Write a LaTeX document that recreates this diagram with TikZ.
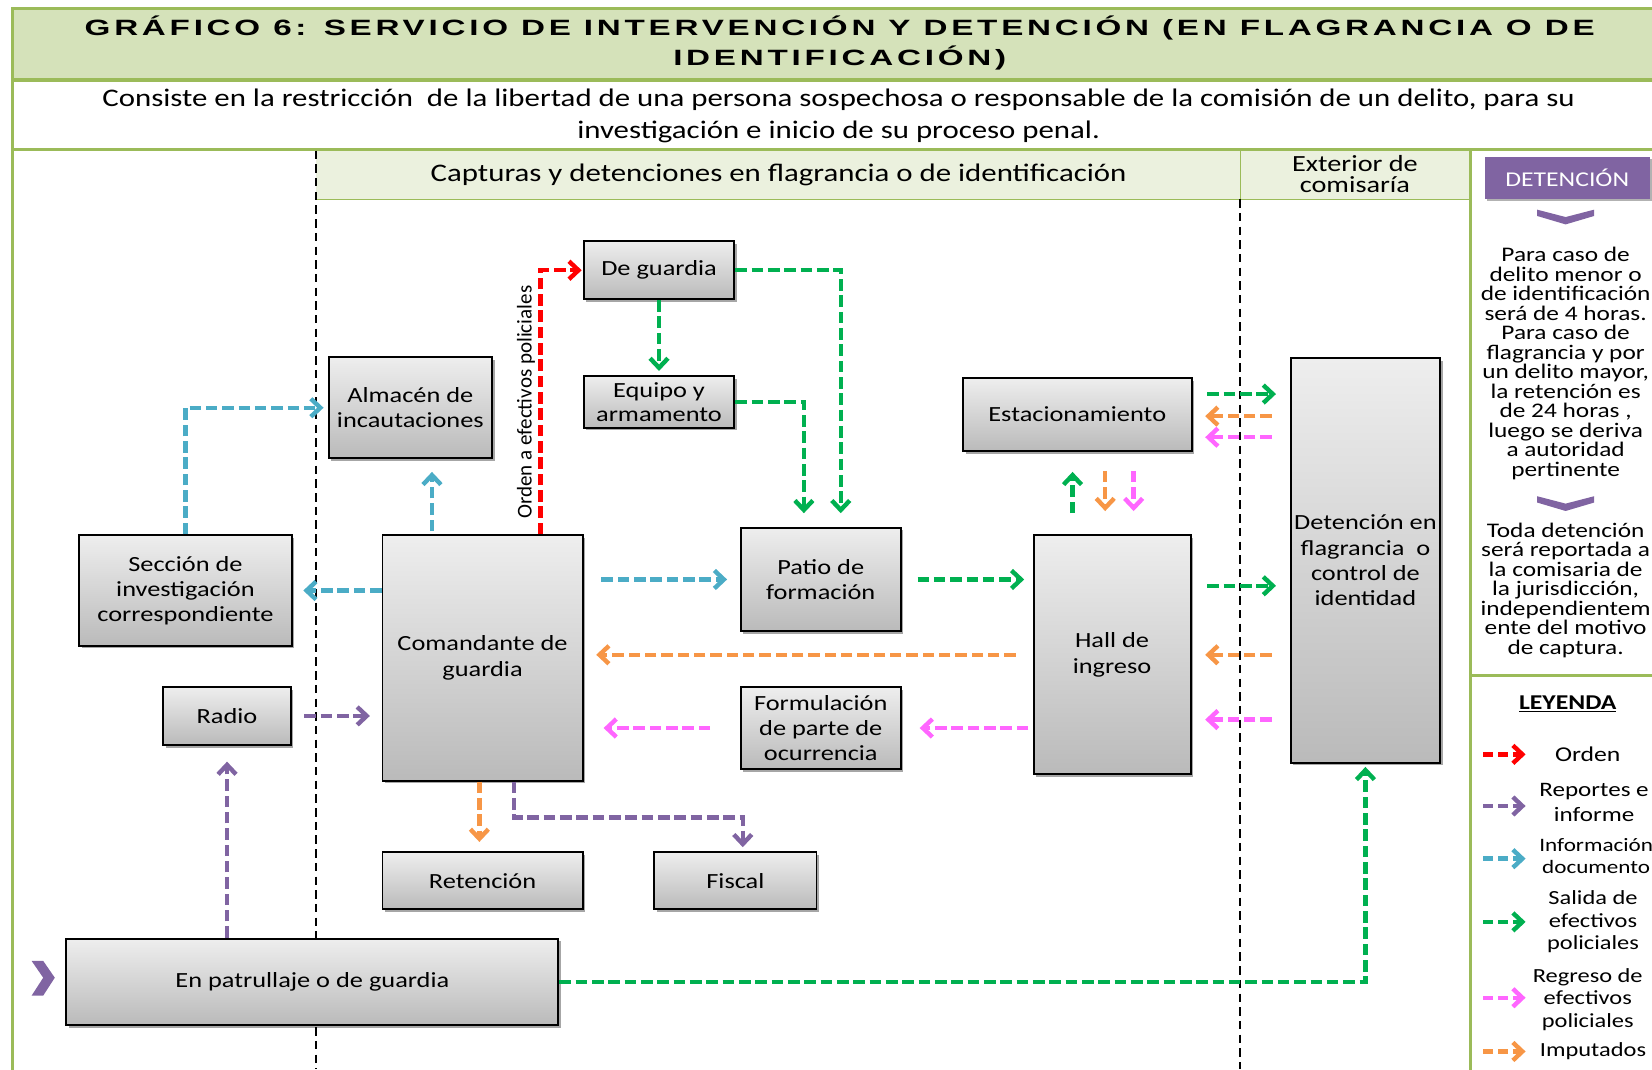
\documentclass[tikz,border=0pt]{standalone}
\usepackage{fontspec}
\setmainfont{Carlito}[FakeStretch=1.22]
\newfontfamily\plainfont{Carlito}
\newfontfamily\titlefont{Liberation Sans}[FakeStretch=1.5,LetterSpace=17]
\usetikzlibrary{arrows.meta,shadows}
\definecolor{frameg}{RGB}{155,187,89}
\definecolor{hdrg}{RGB}{235,241,222}
\definecolor{titleg}{RGB}{213,226,186}
\definecolor{cred}{RGB}{255,0,0}
\definecolor{cpur}{RGB}{128,100,162}
\definecolor{cblue}{RGB}{75,172,198}
\definecolor{cgreen}{RGB}{0,176,80}
\definecolor{cpink}{RGB}{255,102,255}
\definecolor{corange}{RGB}{247,150,70}
\definecolor{boxtop}{RGB}{238,238,238}
\definecolor{boxbot}{RGB}{186,186,186}
\tikzset{
  box/.style={draw=black, line width=1.8pt, top color=boxtop, bottom color=boxbot,
    align=center, inner sep=0pt, font=\fontsize{20.5}{24}\selectfont,
    drop shadow={shadow xshift=2.5pt, shadow yshift=-2.5pt, opacity=0.35, fill=black}},
  arrbase/.style={line width=4.2pt, dash pattern=on 11pt off 4.5pt,
    -{Straight Barb[length=9pt,width=17pt]}},
  arrRed/.style={arrbase, draw=cred},
  arrPur/.style={arrbase, draw=cpur},
  arrBlue/.style={arrbase, draw=cblue},
  arrGreen/.style={arrbase, draw=cgreen},
  arrPink/.style={arrbase, draw=cpink},
  arrOra/.style={arrbase, draw=corange},
  lgarr/.style={dash pattern=on 9pt off 5pt},
  lgtxt/.style={align=center, font=\fontsize{19}{21.5}\selectfont},
  sidetxt/.style={align=center, font=\fontsize{19.7}{18.5}\selectfont},
  greenline/.style={draw=frameg, line width=3pt},
  laneline/.style={draw=black, line width=1.3pt, dash pattern=on 8pt off 5pt}
}
\begin{document}
\begin{tikzpicture}[x=1pt,y=-1pt]
\useasboundingbox (0,0) rectangle (1568,1015);
\clip (0,0) rectangle (1568,1015);
% bands
\fill[titleg] (12,8) rectangle (1590,76);
\fill[hdrg] (300,143) rectangle (1395,189);
\draw[frameg, line width=0.8pt] (300,189) -- (1395,189);
\draw[frameg, line width=0.8pt] (1177,143) -- (1177,189);
\draw[greenline] (1590,8) -- (12,8) -- (12,1030);
\draw[greenline] (12,76) -- (1590,76);
\draw[greenline] (12,142) -- (1590,142);
\draw[greenline] (1396,142) -- (1396,1030);
\draw[greenline] (1396,641) -- (1590,641);
% lane lines
\draw[laneline] (300,143) -- (300,1015);
\draw[laneline] (1177,189) -- (1177,1015);
% titles
\node[font=\titlefont\bfseries\fontsize{21}{28}\selectfont, align=center] (title) at (797,41)
  {GRÁFICO 6: SERVICIO DE INTERVENCIÓN Y DETENCIÓN (EN FLAGRANCIA O DE\\IDENTIFICACIÓN)};
\node[font=\fontsize{24}{30}\selectfont, align=center] (sub) at (796,110)
  {Consiste en la restricción \ de la libertad de una persona sospechosa o responsable de la comisión de un delito, para su\\investigación e inicio de su proceso penal.};
\node[font=\fontsize{24}{26}\selectfont] (hdr) at (739,166) {Capturas y detenciones en flagrancia o de identificación};
\node[font=\fontsize{22}{20.5}\selectfont, align=center] (ext) at (1286,165) {Exterior de\\comisaría};
% boxes
\node[box, minimum width=143pt, minimum height=55pt] (dg) at (625.5,256.5) {De guardia};
\node[box, minimum width=143pt, minimum height=49pt, font=\fontsize{20.5}{23}\selectfont] (eq) at (625.5,381.5) {Equipo y\\armamento};
\node[box, minimum width=155pt, minimum height=96pt] (alm) at (389.5,387) {Almacén de\\incautaciones};
\node[box, minimum width=217pt, minimum height=69pt] (est) at (1022.5,393.5) {Estacionamiento};
\node[box, minimum width=142pt, minimum height=384pt] (det) at (1296,532) {Detención en\\flagrancia \ o\\control de\\identidad};
\node[box, minimum width=202pt, minimum height=105pt] (sec) at (176,560.5) {Sección de\\investigación\\correspondiente};
\node[box, minimum width=190pt, minimum height=233pt] (com) at (458,624.5) {Comandante de\\guardia};
\node[box, minimum width=152pt, minimum height=98pt] (patio) at (779,550) {Patio de\\formación};
\node[box, minimum width=149pt, minimum height=227pt] (hall) at (1055.5,621.5) {Hall de\\ingreso};
\node[box, minimum width=121pt, minimum height=55pt] (radio) at (215.5,679.5) {Radio};
\node[box, minimum width=152pt, minimum height=78pt] (form) at (779,691) {Formulación\\de parte de\\ocurrencia};
\node[box, minimum width=190pt, minimum height=54pt] (ret) at (458,836) {Retención};
\node[box, minimum width=154pt, minimum height=54pt] (fis) at (698,836) {Fiscal};
\node[box, minimum width=467pt, minimum height=82pt] (patr) at (296.5,932) {En patrullaje o de guardia};
% left chevron
\fill[cpur] (30,912) -- (41,912) -- (52,928) -- (41,945) -- (30,945) -- (41,928) -- cycle;
% connectors
\draw[arrRed, shorten >=1pt] ([xshift=55pt]com.north) |- (dg.west)
  node[pos=0.25, rotate=90, anchor=south, font=\plainfont\fontsize{20}{22}\selectfont, text=black, inner sep=3pt] (ordlbl) {Orden a efectivos policiales};
\draw[arrGreen, shorten >=4pt] (dg.south) -- (eq.north);
\draw[arrGreen, shorten >=13pt] (dg.east) -| ([xshift=19pt]patio.north);
\draw[arrGreen, shorten >=13pt] (eq.east) -| ([xshift=-16pt]patio.north);
\draw[arrBlue, shorten <=3pt, shorten >=12pt] ([xshift=-48pt]com.north) -- ([xshift=-48pt]com.north |- alm.south);
\draw[arrBlue, shorten >=4pt] (sec.north) |- (alm.west);
\draw[arrBlue, shorten >=10pt] (com.west |- sec.east) -- (sec.east);
\draw[arrBlue, shorten <=17pt, shorten >=12pt] (com.east |- patio.west) -- (patio.west);
\draw[arrGreen, shorten <=15pt, shorten >=8pt] (patio.east) -- (patio.east -| hall.west);
\draw[arrOra, shorten <=16pt, shorten >=12pt] (hall.west) -- (hall.west -| com.east);
\draw[arrPink, shorten <=4pt, shorten >=17pt] (hall.west |- form.east) -- (form.east);
\draw[arrPink, shorten <=28pt, shorten >=19pt] (form.west) -- (form.west -| com.east);
\draw[arrPur, shorten <=12pt, shorten >=11pt] (radio.east) -- (radio.east -| com.west);
\draw[arrPur, shorten >=15pt] (patr.north -| radio.south) -- (radio.south);
\draw[arrOra, shorten >=9pt] ([xshift=-3pt]com.south) -- ([xshift=-3pt]com.south |- ret.north);
\draw[arrPur, shorten >=4pt] ([xshift=30pt]com.south) -- ++(0,34) -| ([xshift=7pt]fis.north);
\draw[arrGreen, shorten >=3pt] (patr.east) -| (det.south);
\draw[arrGreen, shorten <=20pt, shorten >=19pt] ([xshift=-37.5pt]hall.north) -- ([xshift=-37.5pt]hall.north |- est.south);
\draw[arrOra, shorten <=18pt, shorten >=22pt] ([xshift=26.5pt]est.south) -- ([xshift=26.5pt]est.south |- hall.north);
\draw[arrPink, shorten <=18pt, shorten >=22pt] ([xshift=53.5pt]est.south) -- ([xshift=53.5pt]est.south |- hall.north);
\draw[arrGreen, shorten <=14pt, shorten >=13pt] ([yshift=19.5pt]est.east) -- ([yshift=19.5pt]est.east -| det.west);
\draw[arrOra, shorten <=17pt, shorten >=12pt] ([yshift=-1.5pt]est.east -| det.west) -- ([yshift=-1.5pt]est.east);
\draw[arrPink, shorten <=17pt, shorten >=12pt] ([yshift=-21.5pt]est.east -| det.west) -- ([yshift=-21.5pt]est.east);
\draw[arrGreen, shorten <=15pt, shorten >=13pt] ([yshift=65.5pt]hall.east) -- ([yshift=65.5pt]hall.east -| det.west);
\draw[arrOra, shorten <=17pt, shorten >=13pt] (hall.east -| det.west) -- (hall.east);
\draw[arrPink, shorten <=17pt, shorten >=13pt] ([yshift=-61.5pt]hall.east -| det.west) -- ([yshift=-61.5pt]hall.east);
% right column
\node[fill=cpur, text=white, minimum width=157pt, minimum height=40pt, inner sep=0pt,
  font=\fontsize{20}{24}\selectfont,
  drop shadow={shadow xshift=2pt, shadow yshift=-2pt, opacity=0.3, fill=black}] (detbox) at (1487.5,169) {DETENCIÓN};
\fill[cpur] (1459,199) -- (1486,206) -- (1513,199) -- (1513,205) -- (1486,213) -- (1459,205) -- cycle;
\node[sidetxt] (info1) at (1486,345) {Para caso de\\delito menor o\\de identificación\\será de 4 horas.\\Para caso de\\flagrancia y por\\un delito mayor,\\la retención es\\de 24 horas ,\\luego se deriva\\a autoridad\\pertinente};
\fill[cpur] (1459,471) -- (1486,478) -- (1513,471) -- (1513,477) -- (1486,485) -- (1459,477) -- cycle;
\node[sidetxt] (info2) at (1486,560) {Toda detención\\será reportada a\\la comisaria de\\la jurisdicción,\\independientem\\ente del motivo\\de captura.};
% legend
\node[font=\bfseries\fontsize{20}{24}\selectfont] (ley) at (1488,668) {\underline{LEYENDA}};
\node[lgtxt, font=\fontsize{20}{22}\selectfont] (l1) at (1507,716) {Orden};
\node[lgtxt, font=\fontsize{19.5}{24}\selectfont] (l2) at (1513,762) {Reportes e\\informe};
\node[lgtxt, font=\fontsize{18}{21}\selectfont] (l3) at (1515,812.5) {Información\\documento};
\node[lgtxt] (l4) at (1512,875) {Salida de\\efectivos\\policiales};
\node[lgtxt] (l5) at (1507,948.5) {Regreso de\\efectivos\\policiales};
\node[lgtxt] (l6) at (1512,998) {Imputados};
\draw[arrRed, lgarr] (1408,716) -- (1448,716);
\draw[arrPur, lgarr] (1408,765) -- (1448,765);
\draw[arrBlue, lgarr] (1408,815) -- (1448,815);
\draw[arrGreen, lgarr] (1408,875) -- (1448,875);
\draw[arrPink, lgarr] (1408,947) -- (1448,947);
\draw[arrOra, lgarr] (1408,998) -- (1448,998);
\end{tikzpicture}
\end{document}
